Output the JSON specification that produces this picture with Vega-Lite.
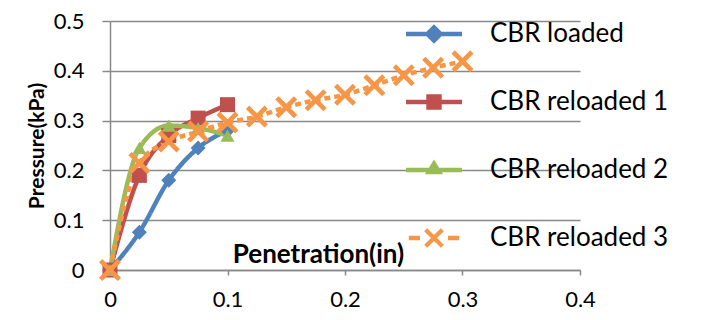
{
  "$schema": "https://vega.github.io/schema/vega-lite/v6.json",
  "width": 470,
  "height": 249,
  "autosize": {"type": "none"},
  "padding": {"left": 110, "top": 21, "right": 142, "bottom": 50},
  "background": "white",
  "config": {
    "view": {"stroke": null},
    "font": "Lato",
    "axis": {
      "labelFont": "Lato",
      "labelFontSize": 22,
      "labelColor": "black",
      "titleFont": "Lato",
      "titleFontWeight": "bold",
      "titleColor": "black",
      "domainColor": "#898989",
      "domainWidth": 1.5,
      "tickColor": "#898989",
      "tickWidth": 1.5,
      "gridColor": "#898989",
      "gridWidth": 1.5
    },
    "legend": {
      "title": null,
      "orient": "none",
      "legendX": 311,
      "legendY": 0,
      "labelFont": "Lato",
      "labelFontSize": 26,
      "labelColor": "black",
      "labelOffset": 43,
      "symbolSize": 196,
      "symbolStrokeWidth": 0,
      "symbolOpacity": 1,
      "rowPadding": 42,
      "labelLimit": 300
    }
  },
  "data": {
    "values": [
      {"s": "CBR loaded", "x": 0, "y": 0},
      {"s": "CBR loaded", "x": 0.025, "y": 0.076},
      {"s": "CBR loaded", "x": 0.05, "y": 0.18},
      {"s": "CBR loaded", "x": 0.075, "y": 0.245},
      {"s": "CBR loaded", "x": 0.1, "y": 0.28},
      {"s": "CBR reloaded 1", "x": 0, "y": 0},
      {"s": "CBR reloaded 1", "x": 0.025, "y": 0.19},
      {"s": "CBR reloaded 1", "x": 0.05, "y": 0.27},
      {"s": "CBR reloaded 1", "x": 0.075, "y": 0.305},
      {"s": "CBR reloaded 1", "x": 0.1, "y": 0.332},
      {"s": "CBR reloaded 2", "x": 0, "y": 0},
      {"s": "CBR reloaded 2", "x": 0.025, "y": 0.245},
      {"s": "CBR reloaded 2", "x": 0.05, "y": 0.29},
      {"s": "CBR reloaded 2", "x": 0.075, "y": 0.285},
      {"s": "CBR reloaded 2", "x": 0.1, "y": 0.27},
      {"s": "CBR reloaded 3", "x": 0, "y": 0},
      {"s": "CBR reloaded 3", "x": 0.025, "y": 0.215},
      {"s": "CBR reloaded 3", "x": 0.05, "y": 0.258},
      {"s": "CBR reloaded 3", "x": 0.075, "y": 0.278},
      {"s": "CBR reloaded 3", "x": 0.1, "y": 0.296},
      {"s": "CBR reloaded 3", "x": 0.125, "y": 0.308},
      {"s": "CBR reloaded 3", "x": 0.15, "y": 0.327},
      {"s": "CBR reloaded 3", "x": 0.175, "y": 0.341},
      {"s": "CBR reloaded 3", "x": 0.2, "y": 0.352},
      {"s": "CBR reloaded 3", "x": 0.225, "y": 0.371},
      {"s": "CBR reloaded 3", "x": 0.25, "y": 0.391},
      {"s": "CBR reloaded 3", "x": 0.275, "y": 0.406},
      {"s": "CBR reloaded 3", "x": 0.3, "y": 0.419}
    ]
  },
  "encoding": {
    "x": {
      "field": "x",
      "type": "quantitative",
      "scale": {"domain": [0, 0.4], "nice": false, "zero": false},
      "axis": {
        "title": "Penetration(in)",
        "titleFontSize": 26,
        "values": [0, 0.1, 0.2, 0.3, 0.4],
        "format": ".1~f",
        "labelFlush": false,
        "grid": false,
        "tickSize": 5,
        "labelPadding": 14,
        "titleX": 208,
        "titleY": -16,
        "titleBaseline": "middle",
        "titleAnchor": null,
        "titleAlign": "center"
      }
    },
    "y": {
      "field": "y",
      "type": "quantitative",
      "scale": {"domain": [0, 0.5], "nice": false},
      "axis": {
        "title": "Pressure(kPa)",
        "titleFontSize": 21,
        "values": [0, 0.1, 0.2, 0.3, 0.4, 0.5],
        "format": ".1~f",
        "labelFlush": false,
        "tickSize": 8,
        "labelPadding": 18,
        "titlePadding": 6
      }
    },
    "color": {
      "field": "s",
      "type": "nominal",
      "scale": {
        "domain": ["CBR loaded", "CBR reloaded 1", "CBR reloaded 2", "CBR reloaded 3"],
        "range": ["#4F81BD", "#C0504D", "#9BBB59", "#F79646"]
      },
      "legend": {"title": null}
    }
  },
  "layer": [
    {
      "mark": {"type": "line", "interpolate": "monotone", "strokeWidth": 4.5},
      "encoding": {
        "strokeDash": {
          "field": "s",
          "type": "nominal",
          "scale": {
            "domain": ["CBR loaded", "CBR reloaded 1", "CBR reloaded 2", "CBR reloaded 3"],
            "range": [[1, 0], [1, 0], [1, 0], [6, 4]]
          },
          "legend": null
        }
      }
    },
    {
      "transform": [{"filter": "datum.s === 'CBR loaded'"}],
      "mark": {"type": "point", "filled": true, "opacity": 1, "strokeWidth": 0, "shape": "diamond", "size": 225}
    },
    {
      "transform": [{"filter": "datum.s === 'CBR reloaded 1'"}],
      "mark": {"type": "point", "filled": true, "opacity": 1, "strokeWidth": 0, "shape": "square", "size": 225}
    },
    {
      "transform": [{"filter": "datum.s === 'CBR reloaded 2'"}],
      "mark": {"type": "point", "filled": true, "opacity": 1, "strokeWidth": 0, "shape": "triangle-up", "size": 200}
    },
    {
      "transform": [{"filter": "datum.s === 'CBR reloaded 3'"}],
      "mark": {"type": "point", "filled": true, "opacity": 1, "strokeWidth": 0, "shape": "M-1,-0.7L-0.7,-1L0,-0.3L0.7,-1L1,-0.7L0.3,0L1,0.7L0.7,1L0,0.3L-0.7,1L-1,0.7L-0.3,0Z", "size": 484}
    },
    {
      "transform": [{"filter": "datum.x < -1"}],
      "mark": {"type": "point", "filled": true, "opacity": 1, "strokeWidth": 0},
      "encoding": {
        "shape": {
          "field": "s",
          "type": "nominal",
          "scale": {
            "domain": ["CBR loaded", "CBR reloaded 1", "CBR reloaded 2", "CBR reloaded 3"],
            "range": [
              "M-4,-0.32H4V0.32H-4Z M0,-1.4L1.4,0L0,1.4L-1.4,0Z",
              "M-4,-0.32H4V0.32H-4Z M-1.1,-1.1H1.1V1.1H-1.1Z",
              "M-4,-0.32H4V0.32H-4Z M0,-1.5L1.3,0.6H-1.3Z",
              "M-3.6,-0.32H-2V0.32H-3.6Z M2,-0.32H3.6V0.32H2Z M-1.4,-0.98L-0.98,-1.4L0,-0.42L0.98,-1.4L1.4,-0.98L0.42,0L1.4,0.98L0.98,1.4L0,0.42L-0.98,1.4L-1.4,0.98L-0.42,0Z"
            ]
          },
          "legend": {"title": null}
        }
      }
    }
  ]
}
